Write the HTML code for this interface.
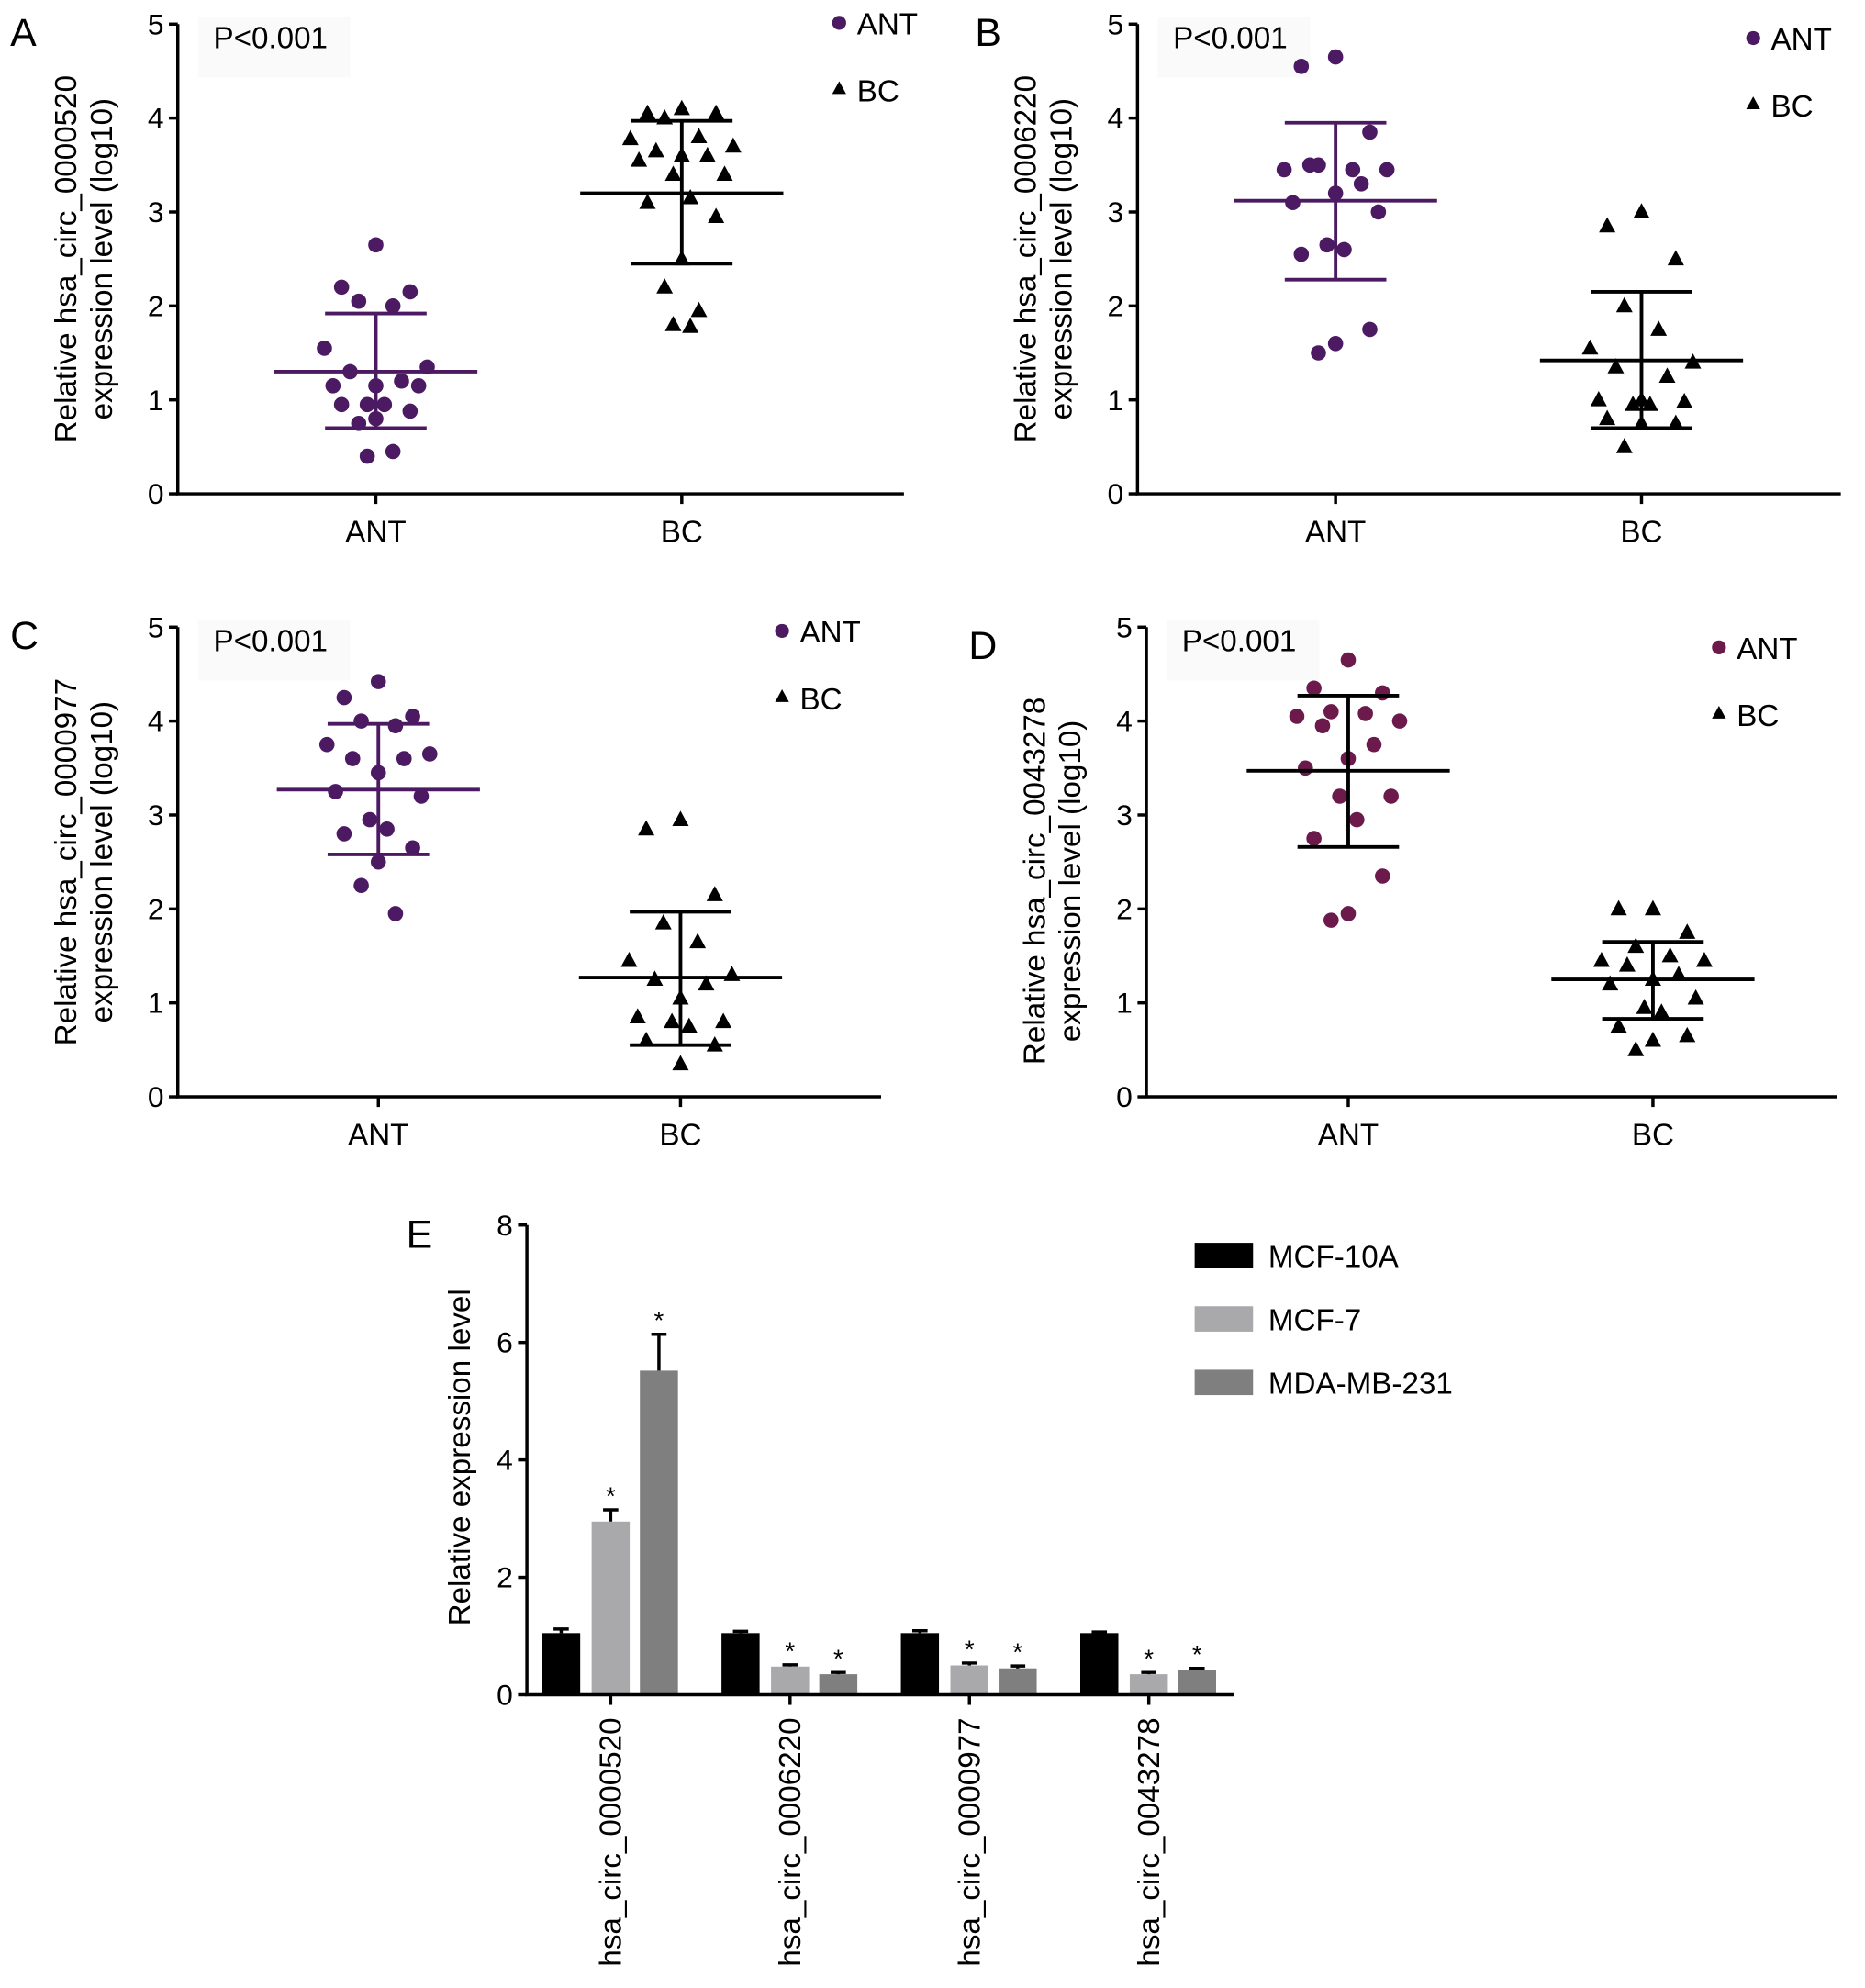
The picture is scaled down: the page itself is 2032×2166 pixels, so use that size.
<!DOCTYPE html>
<html><head><meta charset="utf-8"><style>
html,body{margin:0;padding:0;background:#fff;}
svg{display:block;font-family:"Liberation Sans",Arial,sans-serif;}
</style></head><body>
<svg id="fig" width="2032" height="2166" viewBox="0 0 1469 1566" xmlns="http://www.w3.org/2000/svg"></svg>
<script>
// ---------- Data ----------
const groupNames = ["ANT","BC"];
const aANT = [2.65,2.2,2.15,2.05,2.0,1.55,1.35,1.3,1.2,1.15,1.15,1.15,0.95,0.95,0.95,0.88,0.8,0.75,0.45,0.4];
const aBC  = [4.1,4.05,4.05,4.0,3.8,3.78,3.7,3.65,3.6,3.6,3.55,3.4,3.4,3.15,3.1,2.95,2.5,2.2,1.95,1.8,1.78];
const aMean = [1.3,3.2], aHi=[1.92,3.97], aLo=[0.7,2.45];
const bANT = [4.65,4.55,3.85,3.5,3.45,3.45,3.45,3.5,3.3,3.2,3.1,3.0,2.65,2.6,2.55,1.75,1.6,1.5];
const bBC  = [3.0,2.85,2.5,2.0,1.75,1.55,1.4,1.35,1.25,1.0,1.0,0.98,0.95,0.95,0.8,0.75,0.75,0.5];
const bMean = [3.12,1.42], bHi=[3.95,2.15], bLo=[2.28,0.7];
const cANT = [4.42,4.25,4.05,4.0,3.95,3.75,3.65,3.6,3.6,3.45,3.25,3.2,2.95,2.85,2.8,2.65,2.5,2.25,1.95];
const cBC  = [2.95,2.85,2.15,1.85,1.65,1.45,1.3,1.25,1.2,1.05,0.85,0.8,0.8,0.75,0.6,0.55,0.35];
const cMean = [3.27,1.27], cHi=[3.97,1.97], cLo=[2.58,0.55];
const dANT = [4.65,4.35,4.3,4.1,4.08,4.05,4.0,3.95,3.75,3.6,3.5,3.2,3.2,2.95,2.75,2.35,1.95,1.88];
const dBC  = [2.0,2.0,1.75,1.6,1.5,1.45,1.45,1.4,1.3,1.25,1.2,1.05,0.95,0.9,0.75,0.65,0.6,0.5];
const dMean = [3.47,1.25], dHi=[4.27,1.65], dLo=[2.66,0.83];
const scatterTicks = [0,1,2,3,4,5];

const eCategories = ["hsa_circ_0000520","hsa_circ_0006220","hsa_circ_0000977","hsa_circ_0043278"];
const eSeries = ["MCF-10A","MCF-7","MDA-MB-231"];
const eMCF10A = [1.05,1.05,1.05,1.05];
const eMCF7 = [2.95,0.48,0.5,0.35];
const eMDA = [5.52,0.35,0.45,0.42];
const eErr10A = [0.07,0.03,0.04,0.02];
const eErr7 = [0.2,0.03,0.04,0.03];
const eErrMDA = [0.62,0.03,0.04,0.03];
const eTicks = [0,2,4,6,8];

// ---------- helpers ----------
const NS="http://www.w3.org/2000/svg";
const svg=document.getElementById('fig');
function el(tag,attrs,parent,text){const e=document.createElementNS(NS,tag);for(const k in attrs)e.setAttribute(k,attrs[k]);if(text!==undefined)e.textContent=text;(parent||svg).appendChild(e);return e;}
const jit=[0,-0.6,0.6,-0.3,0.3,-0.9,0.9,-0.45,0.45,0,-0.75,0.75,-0.15,0.15,-0.6,0.6,0,-0.3,0.3,-0.15,0.15];

function scatterPanel(cfg){
  const g=el('g',{},svg);
  
  
  const y=v=>cfg.y0-(cfg.y0-cfg.y5)*v/5;
  const xs=[cfg.xA,cfg.xB];
  const ax=el('path',{d:`M${cfg.ax} ${cfg.y5} V${cfg.y0} H${cfg.xEnd}`,stroke:'#000','stroke-width':2.5,fill:'none'},g);
  
  scatterTicks.forEach(t=>{
    el('line',{x1:cfg.ax-7,x2:cfg.ax,y1:y(t),y2:y(t),stroke:'#000','stroke-width':2.5},g);
    const tl=el('text',{x:cfg.ax-11,y:y(t)+8,'text-anchor':'end','font-size':23},g,t);
    
  });
  xs.forEach((x,i)=>{
    el('line',{x1:x,x2:x,y1:cfg.y0,y2:cfg.y0+8,stroke:'#000','stroke-width':2.5},g);
    const tl=el('text',{x:x,y:cfg.y0+38,'text-anchor':'middle','font-size':24},g,groupNames[i]);
    
  });
  const yc=(cfg.y0+cfg.y5)/2+cfg.tOff;
  const t1=el('text',{x:0,y:0,'text-anchor':'middle','font-size':24,transform:`translate(${cfg.ax-80},${yc}) rotate(-90)`},g,'Relative hsa_circ_'+cfg.id);
  
  const t2=el('text',{x:0,y:0,'text-anchor':'middle','font-size':24,transform:`translate(${cfg.ax-52},${yc}) rotate(-90)`},g,'expression level (log10)');
  
  const pl=el('text',{x:cfg.lx,y:cfg.ly,'font-size':31},g,cfg.letter);
  
  el('rect',{x:cfg.ax+16,y:cfg.y5-6,width:120,height:48,fill:'#fafafa'},g);
  const pv=el('text',{x:cfg.ax+28,y:cfg.y5+19,'font-size':24},g,'P<0.001');
  
  cfg.ant.forEach((v,i)=>{
    const c=el('circle',{cx:cfg.xA+jit[i%jit.length]*45,cy:y(v),r:6,fill:cfg.antColor},g);
    
  });
  cfg.bc.forEach((v,i)=>{
    const cx=cfg.xB+jit[i%jit.length]*45,cy=y(v);
    const p=el('path',{d:`M${cx} ${cy-7} L${cx+6.5} ${cy+5} L${cx-6.5} ${cy+5}Z`,fill:'#000'},g);
    
  });
  [0,1].forEach(i=>{
    const col=i===0?cfg.antBar:'#000';const x=xs[i];
    const e=el('path',{d:`M${x-80} ${y(cfg.mean[i])} H${x+80} M${x-40} ${y(cfg.hi[i])} H${x+40} M${x-40} ${y(cfg.lo[i])} H${x+40} M${x} ${y(cfg.hi[i])} V${y(cfg.lo[i])}`,stroke:col,'stroke-width':2.8,fill:'none'},g);
    
  });
  const lg=el('g',{},g);
  
  el('circle',{cx:cfg.legX,cy:cfg.legY,r:5.5,fill:cfg.antColor},lg);
  el('text',{x:cfg.legX+14,y:cfg.legY+9,'font-size':24},lg,'ANT');
  const ty=cfg.legY+52;
  el('path',{d:`M${cfg.legX} ${ty-6} L${cfg.legX+5.5} ${ty+4} L${cfg.legX-5.5} ${ty+4}Z`,fill:'#000'},lg);
  el('text',{x:cfg.legX+14,y:ty+10,'font-size':24},lg,'BC');
}
const P='#4b1a62';
scatterPanel({name:'panel-a',letter:'A',lx:8,ly:36,id:'0000520',ax:140,xEnd:712,y0:389,y5:19,xA:296,xB:537,ant:aANT,bc:aBC,mean:aMean,hi:aHi,lo:aLo,antColor:P,antBar:P,legX:661,legY:18,tOff:0});
scatterPanel({name:'panel-b',letter:'B',lx:768,ly:36,id:'0006220',ax:896,xEnd:1450,y0:389,y5:19,xA:1052,xB:1293,ant:bANT,bc:bBC,mean:bMean,hi:bHi,lo:bLo,antColor:P,antBar:P,legX:1381,legY:30,tOff:0});
scatterPanel({name:'panel-c',letter:'C',lx:8,ly:511,id:'0000977',ax:140,xEnd:694,y0:864,y5:494,xA:298,xB:536,ant:cANT,bc:cBC,mean:cMean,hi:cHi,lo:cLo,antColor:P,antBar:P,legX:616,legY:497,tOff:0});
scatterPanel({name:'panel-d',letter:'D',lx:763,ly:519,id:'0043278',ax:903,xEnd:1447,y0:864,y5:494,xA:1062,xB:1302,ant:dANT,bc:dBC,mean:dMean,hi:dHi,lo:dLo,antColor:'#6b1a4b',antBar:'#000',legX:1354,legY:510,tOff:15});

// ---------- Panel E ----------
(function(){
  const g=el('g',{},svg);
  
  const ax=415,y0=1335,y8=965,xEnd=972;
  const y=v=>y0-(y0-y8)*v/8;
  const groupX=i=>481+i*141.3;
  const offs=[-39,0,38];
  const vals=[eMCF10A,eMCF7,eMDA],errs=[eErr10A,eErr7,eErrMDA],cols=['#000','#a9a9ab','#7f7f80'];
  const pl=el('text',{x:320,y:983,'font-size':31},g,'E');
  
  eCategories.forEach((c,i)=>{
    vals.forEach((arr,s)=>{
      const cx=groupX(i)+offs[s],v=arr[i],e=errs[s][i];
      const b=el('rect',{x:cx-15,y:y(v),width:30,height:y0-y(v),fill:cols[s]},g);
      
      el('path',{d:`M${cx} ${y(v)} V${y(v+e)} M${cx-6} ${y(v+e)} H${cx+6}`,stroke:'#000','stroke-width':2.5,fill:'none'},g);
      if(s>0){const st=el('text',{x:cx,y:y(v+e)-4,'text-anchor':'middle','font-size':20},g,'*');
        }
    });
    el('line',{x1:groupX(i),x2:groupX(i),y1:y0,y2:y0+8,stroke:'#000','stroke-width':2.5},g);
    const tl=el('text',{x:0,y:0,'text-anchor':'end','font-size':24,transform:`translate(${groupX(i)+8},${y0+18}) rotate(-90)`},g,c);
    
  });
  const axp=el('path',{d:`M${ax} ${y8} V${y0} H${xEnd}`,stroke:'#000','stroke-width':2.5,fill:'none'},g);
  
  eTicks.forEach(t=>{
    el('line',{x1:ax-7,x2:ax,y1:y(t),y2:y(t),stroke:'#000','stroke-width':2.5},g);
    const tl=el('text',{x:ax-11,y:y(t)+8,'text-anchor':'end','font-size':23},g,t);
    
  });
  const yt=el('text',{x:0,y:0,'text-anchor':'middle','font-size':24,transform:`translate(370,1148) rotate(-90)`},g,'Relative expression level');
  
  const lg=el('g',{},g);
  
  eSeries.forEach((s,i)=>{
    const ly=979+i*50;
    el('rect',{x:941,y:ly,width:46,height:20,fill:cols[i]},lg);
    const t=el('text',{x:999,y:ly+19,'font-size':24},lg,s);
    
  });
})();
</script>
</body></html>
